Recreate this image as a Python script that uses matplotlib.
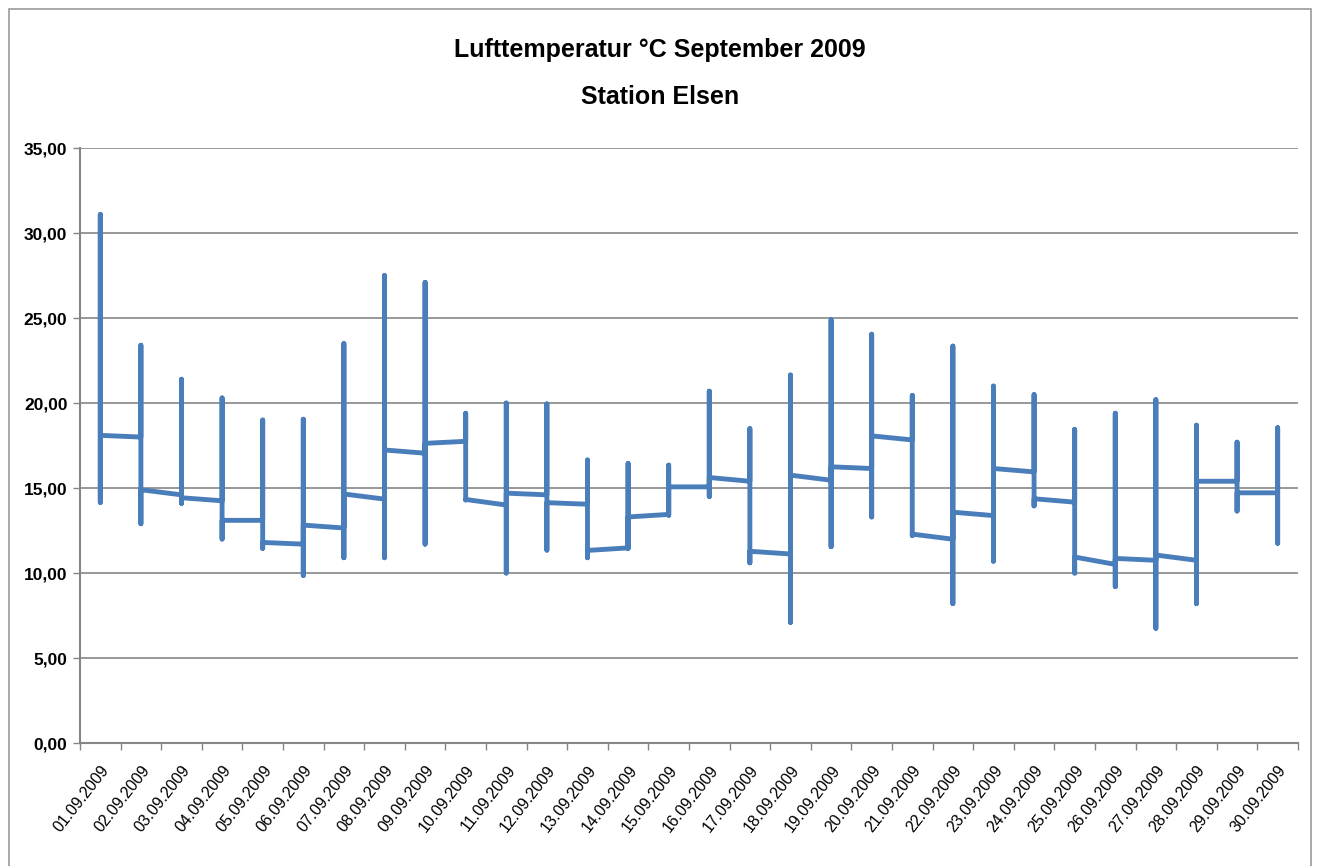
import matplotlib
matplotlib.use('Agg')
import matplotlib.pyplot as plt
from matplotlib.patches import Rectangle

plt.rcParams['font.family'] = ['Liberation Sans', 'DejaVu Sans']

# Tage im September 2009
days = ['%02d.09.2009' % d for d in range(1, 31)]

# Werte je Tag: erster Wert, Maximum, Minimum, letzter Wert (Grad C)
t_first = [18.1, 18.0, 14.6, 14.25, 13.1, 11.7, 12.65, 14.35, 17.05, 17.75,
           14.0, 14.6, 14.05, 11.48, 13.45, 15.07, 15.4, 11.12, 15.46, 16.15,
           17.83, 11.99, 13.38, 15.95, 14.17, 10.51, 10.75, 10.75, 15.4, 14.72]
t_max = [31.1, 23.4, 21.4, 20.3, 19.0, 19.05, 23.5, 27.5, 27.1, 19.4,
         20.0, 19.95, 16.65, 16.45, 16.35, 20.7, 18.5, 21.65, 24.9, 24.05,
         20.45, 23.35, 21.0, 20.5, 18.45, 19.4, 20.2, 18.7, 17.7, 18.55]
t_min = [14.15, 12.9, 14.1, 12.0, 11.45, 9.86, 10.9, 10.9, 11.7, 14.3,
         10.0, 11.35, 10.9, 11.45, 13.4, 14.5, 10.6, 7.1, 11.55, 13.3,
         12.2, 8.2, 10.7, 13.95, 10.0, 9.2, 6.75, 8.2, 13.65, 11.75]
t_last = [18.1, 14.9, 14.43, 13.1, 11.8, 12.82, 14.65, 17.24, 17.63, 14.33,
          14.7, 14.14, 11.33, 13.3, 15.07, 15.62, 11.28, 15.76, 16.25, 18.07,
          12.29, 13.58, 16.15, 14.37, 10.94, 10.86, 11.06, 15.4, 14.72, 14.72]

xs = []
ys = []
for i in range(len(days)):
    xs += [i, i, i, i]
    ys += [t_first[i], t_max[i], t_min[i], t_last[i]]

fig = plt.figure(figsize=(13.2, 8.66), dpi=100)
ax = fig.add_axes([0.0606, 0.142, 0.9227, 0.687])

fig.patches.append(Rectangle((0.007, -0.01), 0.986, 1.0, transform=fig.transFigure,
                             fill=False, edgecolor='#9a9a9a', lw=1.2))

gray = '#868686'
ax.plot(xs, ys, color='#4a7ebb', lw=3.5, solid_joinstyle='round',
        solid_capstyle='round', zorder=3)

ax.set_ylim(0, 35)
ax.set_yticks(range(0, 36, 5))
ax.set_yticklabels(['%d,00' % v for v in range(0, 36, 5)], fontsize=12.5, fontweight='bold')
ax.yaxis.grid(True, color=gray, lw=1.2)
ax.set_axisbelow(True)

ax.set_xlim(-0.5, len(days) - 0.5)
ax.set_xticks([i - 0.5 for i in range(len(days) + 1)])
ax.set_xticklabels([])
ax.set_xticks(range(len(days)), minor=True)
ax.set_xticklabels(days, minor=True, rotation=52, ha='right', va='top',
                   rotation_mode='anchor', fontsize=11.5)
ax.tick_params(axis='x', which='minor', length=0, pad=14)
ax.tick_params(axis='x', which='major', length=5, color=gray, width=1)
ax.tick_params(axis='y', length=5, color=gray, width=1, pad=4)

for s in ['top', 'right']:
    ax.spines[s].set_visible(False)
for s in ['left', 'bottom']:
    ax.spines[s].set_color(gray)
    ax.spines[s].set_linewidth(1.5)

fig.text(0.5, 0.942, 'Lufttemperatur °C September 2009', ha='center', va='center',
         fontsize=18, fontweight='bold')
fig.text(0.5, 0.888, 'Station Elsen', ha='center', va='center',
         fontsize=18, fontweight='bold')

fig.savefig('out.png', dpi=100)
